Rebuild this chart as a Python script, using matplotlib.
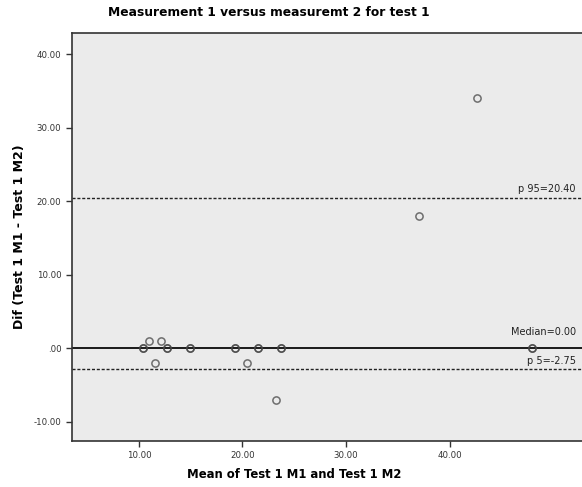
import matplotlib
matplotlib.use("Agg")
import matplotlib.pyplot as plt

# Bland-Altman style data
mean_vals = [10.4, 10.4, 12.7, 12.7, 14.9, 14.9, 19.3, 19.3, 21.5, 21.5, 23.7, 23.7, 48.0, 48.0,
             11.0, 12.1, 11.5, 20.4, 23.2, 37.1, 42.7]
diff_vals = [0, 0, 0, 0, 0, 0, 0, 0, 0, 0, 0, 0, 0, 0,
             1, 1, -2, -2, -7, 18, 34]

median_val = 0.00
p95_val = 20.40
p5_val = -2.75

y_ticks = [-10, 0, 10, 20, 30, 40]
y_labels = ["-10.00", ".00", "10.00", "20.00", "30.00", "40.00"]
x_ticks = [10, 20, 30, 40]
x_labels = ["10.00", "20.00", "30.00", "40.00"]

plt.rcParams["font.family"] = ["DejaVu Sans"]

fig = plt.figure(figsize=(5.82, 4.87), dpi=100)
ax = fig.add_axes([0.1232, 0.0945, 0.8768, 0.8384])
ax.set_facecolor("#ebebeb")

ax.axhline(median_val, color="#1a1a1a", lw=1.4, zorder=2)
ax.axhline(p95_val, color="#222222", lw=1.0, dashes=(2.2, 1.3), zorder=2)
ax.axhline(p5_val, color="#222222", lw=1.0, dashes=(2.2, 1.3), zorder=2)

ax.plot(mean_vals, diff_vals, linestyle="none", marker="o", markersize=5.2,
        markerfacecolor="none", markeredgecolor="#444444", markeredgewidth=1.1,
        alpha=0.75, zorder=3)

ax.set_xlim(3.5, 52.8)
ax.set_ylim(-12.6, 42.9)
ax.set_xticks(x_ticks)
ax.set_xticklabels(x_labels)
ax.set_yticks(y_ticks)
ax.set_yticklabels(y_labels)
ax.tick_params(direction="out", length=4, width=1, labelsize=6.2, colors="#333333",
               labelcolor="#333333")

for side in ["left", "bottom", "top"]:
    ax.spines[side].set_color("#333333")
    ax.spines[side].set_linewidth(1.2)
ax.spines["right"].set_visible(False)

ax.text(52.2, p95_val + 0.6, "p 95=20.40", ha="right", va="bottom", fontsize=7, color="#222222")
ax.text(52.2, median_val + 1.6, "Median=0.00", ha="right", va="bottom", fontsize=7, color="#222222")
ax.text(52.2, p5_val + 0.4, "p 5=-2.75", ha="right", va="bottom", fontsize=7, color="#222222")

fig.text(269 / 582, 1 - 13 / 487, "Measurement 1 versus measuremt 2 for test 1",
         ha="center", va="center", fontsize=8.8, fontweight="bold")
fig.text(294 / 582, 1 - 475 / 487, "Mean of Test 1 M1 and Test 1 M2",
         ha="center", va="center", fontsize=8.4, fontweight="bold")
fig.text(20 / 582, 1 - 237 / 487, "Dif (Test 1 M1 - Test 1 M2)",
         ha="center", va="center", fontsize=9, fontweight="bold", rotation=90)

fig.savefig("out.png", dpi=100)
